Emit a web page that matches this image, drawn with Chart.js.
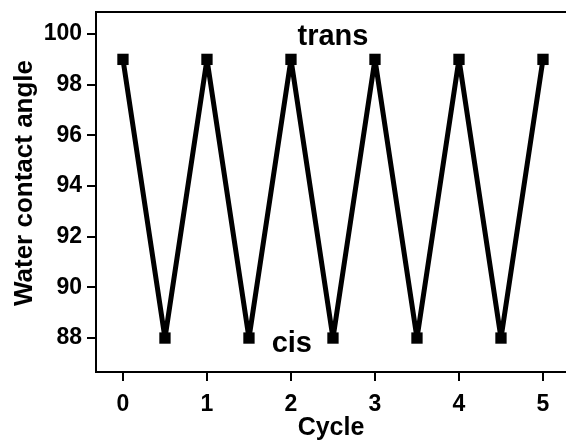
<!DOCTYPE html>
<html>
<head>
<meta charset="utf-8">
<script src="https://cdn.jsdelivr.net/npm/chart.js@4/dist/chart.umd.min.js"></script>
<style>
  html, body { margin: 0; padding: 0; background: #fff; }
  #wrap { width: 566px; height: 444px; }
</style>
</head>
<body>
<div id="wrap"><canvas id="chartCiclo"></canvas></div>
<script>
// datos
const cycle = [0, 0.5, 1, 1.5, 2, 2.5, 3, 3.5, 4, 4.5, 5];
const angle = [99, 88, 99, 88, 99, 88, 99, 88, 99, 88, 99];
const xTicks = [0, 1, 2, 3, 4, 5];
const yTicks = [88, 90, 92, 94, 96, 98, 100];
const notes = [
  { text: 'trans', x: 2.5, y: 99.57 },
  { text: 'cis',   x: 2.01, y: 87.45 }
];

const FONT = "'Liberation Sans', Arial, sans-serif";

// marco + etiquetas trans/cis + título del eje Y
const frame = {
  id: 'frame',
  afterDraw(chart) {
    const { ctx, chartArea: a, scales } = chart;
    ctx.save();
    ctx.strokeStyle = '#000';
    ctx.lineWidth = 2;
    ctx.strokeRect(a.left, a.top, a.right - a.left + 20, a.bottom - a.top);

    ctx.fillStyle = '#000';
    ctx.font = `bold 29px ${FONT}`;
    ctx.textAlign = 'center';
    ctx.textBaseline = 'alphabetic';
    notes.forEach(n => {
      ctx.fillText(n.text, scales.x.getPixelForValue(n.x), scales.y.getPixelForValue(n.y));
    });

    ctx.font = `bold 26px ${FONT}`;
    ctx.translate(25, 183);
    ctx.rotate(-Math.PI / 2);
    ctx.textBaseline = 'middle';
    ctx.fillText('Water contact angle', 0, 0);
    ctx.restore();
  }
};

new Chart(document.getElementById('chartCiclo'), {
  type: 'scatter',
  data: {
    datasets: [{
      data: cycle.map((c, i) => ({ x: c, y: angle[i] })),
      showLine: true,
      borderColor: '#000',
      backgroundColor: '#000',
      borderWidth: 5,
      borderJoinStyle: 'bevel',
      pointStyle: 'rect',
      pointRadius: 8,
      pointBorderWidth: 0,
      tension: 0
    }]
  },
  options: {
    responsive: true,
    maintainAspectRatio: false,
    animation: false,
    layout: { autoPadding: false, padding: { top: 12, right: 0, left: 0, bottom: 0 } },
    plugins: { legend: { display: false }, tooltip: { enabled: false } },
    scales: {
      x: {
        type: 'linear',
        min: -0.321,
        max: 5.274,
        afterFit: s => { s.height = 72; s.paddingLeft = 0; s.paddingRight = 0; },
        afterBuildTicks: s => { s.ticks = xTicks.map(v => ({ value: v })); },
        border: { display: false },
        grid: { drawOnChartArea: false, drawTicks: true, tickLength: 9, color: '#000', lineWidth: 2 },
        ticks: { color: '#000', padding: 10, font: { family: FONT, size: 23, weight: 'bold' } },
        title: { display: true, text: 'Cycle', color: '#000', padding: { top: 0, bottom: 1 }, font: { family: FONT, size: 25, weight: 'bold' } }
      },
      y: {
        min: 86.66,
        max: 100.87,
        afterFit: s => { s.width = 96; s.paddingTop = 0; s.paddingBottom = 0; },
        afterBuildTicks: s => { s.ticks = yTicks.map(v => ({ value: v })); },
        border: { display: false },
        grid: { drawOnChartArea: false, drawTicks: true, tickLength: 9, color: '#000', lineWidth: 2 },
        ticks: { color: '#000', padding: 5, font: { family: FONT, size: 23, weight: 'bold' } }
      }
    }
  },
  plugins: [frame]
});
</script>
</body>
</html>
